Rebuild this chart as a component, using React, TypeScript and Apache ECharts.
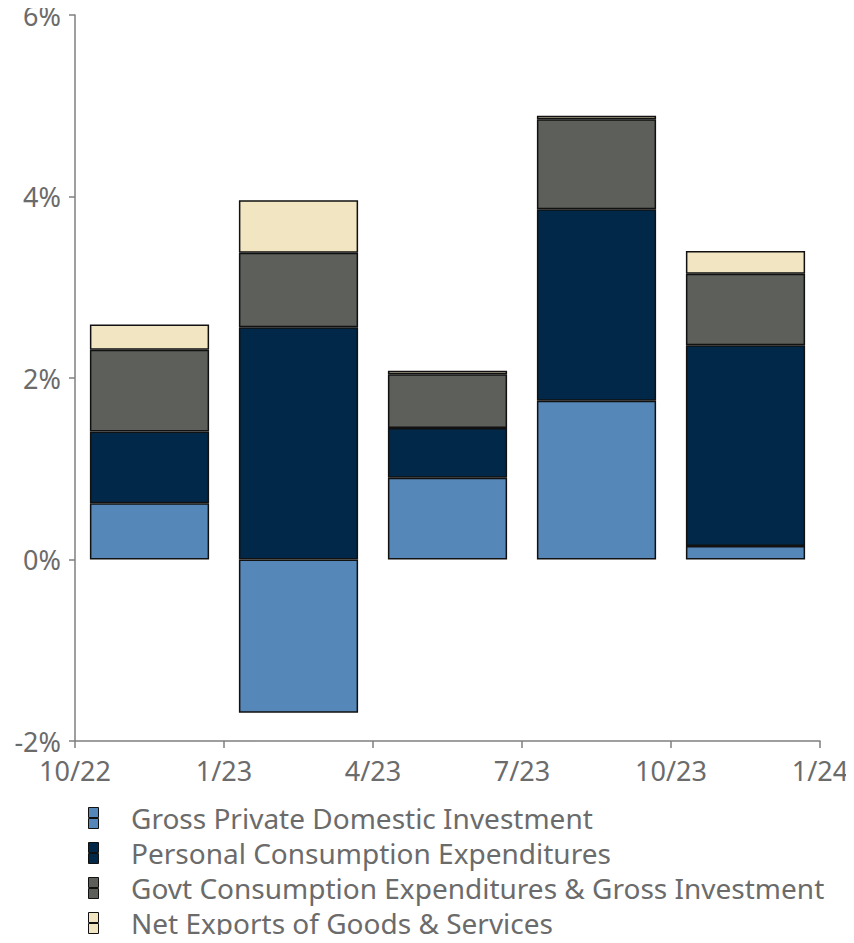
import React, { useEffect, useRef } from "react";
import * as echarts from "echarts";

const quarters = ["Q4 2022", "Q1 2023", "Q2 2023", "Q3 2023", "Q4 2023"];
const xTickLabels = ["10/22", "1/23", "4/23", "7/23", "10/23", "1/24"];
const seriesNames = [
  "Gross Private Domestic Investment",
  "Personal Consumption Expenditures",
  "Govt Consumption Expenditures & Gross Investment",
  "Net Exports of Goods & Services",
];
const grossInvestment = [0.62, -1.69, 0.9, 1.75, 0.15];
const personalConsumption = [0.79, 2.56, 0.55, 2.11, 2.21];
const govtConsumption = [0.9, 0.82, 0.59, 0.99, 0.79];
const netExports = [0.28, 0.58, 0.04, 0.04, 0.25];
const colors = ["#5588b8", "#022849", "#5d5f5b", "#f2e5c2"];

const FONT = "Noto Sans";
const TEXT = "#6b6b6b";
const AXIS = "#7f7f7f";

export default function App() {
  const ref = useRef<HTMLDivElement>(null);
  useEffect(() => {
    if (!ref.current) return;
    const chart = echarts.init(ref.current, undefined, { renderer: "svg" });
    const values = [grossInvestment, personalConsumption, govtConsumption, netExports];
    chart.setOption({
      animation: false,
      textStyle: { fontFamily: FONT },
      grid: { left: 75, right: 34, top: 15, bottom: 202, containLabel: false },
      legend: {
        orient: "vertical",
        left: 83,
        top: 799,
        height: 150,
        itemWidth: 11,
        itemHeight: 21,
        itemGap: 7,
        icon: "path://M0,0H10V10H0Z M0,11H10V21H0Z",
        itemStyle: { borderColor: "#111", borderWidth: 1 },
        textStyle: {
          color: TEXT,
          fontSize: 28,
          fontFamily: FONT,
          lineHeight: 28,
          rich: { t: { color: TEXT, fontSize: 28, fontFamily: FONT, lineHeight: 28, padding: [0, 0, 0, 27] } },
        },
        formatter: (name: string) => `{t|${name}}`,
        data: seriesNames,
      },
      xAxis: [
        {
          type: "category",
          data: quarters,
          show: false,
        },
        {
          type: "value",
          min: 0,
          max: 5,
          interval: 1,
          position: "bottom",
          axisLine: { show: true, onZero: false, lineStyle: { color: AXIS, width: 1.5 } },
          axisTick: { show: true, length: 7, lineStyle: { color: AXIS, width: 1.5 } },
          splitLine: { show: false },
          axisLabel: {
            color: TEXT,
            fontSize: 27,
            fontFamily: FONT,
            margin: 16,
            formatter: (v: number) => xTickLabels[Math.round(v)] ?? "",
          },
        },
      ],
      yAxis: {
        type: "value",
        min: -2,
        max: 6,
        interval: 2,
        axisLine: { show: true, lineStyle: { color: AXIS, width: 1.5 } },
        axisTick: { show: true, length: 6, lineStyle: { color: AXIS, width: 1.5 } },
        splitLine: { show: false },
        axisLabel: {
          color: TEXT,
          fontSize: 27,
          lineHeight: 22,
          fontFamily: FONT,
          margin: 14,
          formatter: "{value}%",
        },
      },
      series: seriesNames.map((name, i) => ({
        name,
        type: "bar",
        stack: "gdp",
        xAxisIndex: 0,
        barCategoryGap: "20%",
        data: values[i],
        itemStyle: { color: colors[i], borderColor: "#111", borderWidth: 1.5 },
      })),
    });
    return () => chart.dispose();
  }, []);
  return <div ref={ref} style={{ width: 854, height: 943, margin: -8 }} />;
}
